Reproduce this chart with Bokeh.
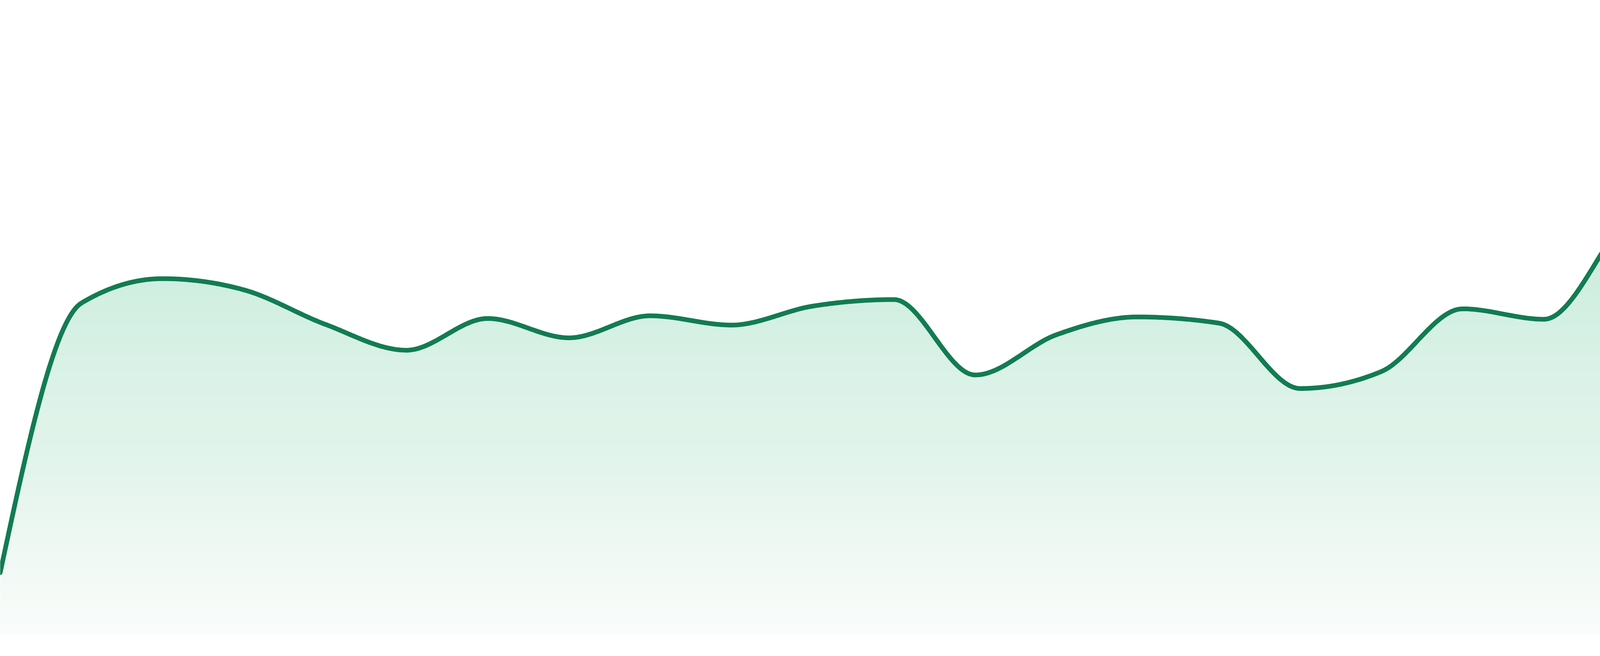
import numpy as np
from bokeh.plotting import figure
from bokeh.models import Range1d
from bokeh.embed import file_html
from bokeh.resources import INLINE

# ---- data ----
points = list(range(24))
values = [16.0, 85.7, 92.0, 89.1, 80.2, 73.5, 81.7, 76.7, 82.4, 80.0, 84.9, 86.6,
          67.1, 77.5, 82.1, 80.5, 63.6, 68.0, 84.2, 81.5, 107.2, 128.0, 141.1, 144.2]

LINE_COLOR = "#127c52"
# gradient stops: (value level, rgb)
grad_levels = [0.0, 24.0, 44.0, 64.0, 86.0, 144.5]
grad_colors = [(250, 252, 251), (238, 248, 243), (226, 244, 235), (220, 242, 232),
               (210, 239, 226), (175, 228, 207)]


def _sign(v):
    return -1.0 if v < 0 else 1.0


def monotone_x(xs, ys, samples=40):
    xs = np.asarray(xs, float)
    ys = np.asarray(ys, float)
    n = len(xs)
    t = np.zeros(n)
    for i in range(1, n - 1):
        h0 = xs[i] - xs[i - 1]
        h1 = xs[i + 1] - xs[i]
        s0 = (ys[i] - ys[i - 1]) / h0
        s1 = (ys[i + 1] - ys[i]) / h1
        p = (s0 * h1 + s1 * h0) / (h0 + h1)
        t[i] = (_sign(s0) + _sign(s1)) * min(abs(s0), abs(s1), 0.5 * abs(p))
    h = xs[1] - xs[0]
    t[0] = (3 * (ys[1] - ys[0]) / h - t[1]) / 2
    h = xs[-1] - xs[-2]
    t[-1] = (3 * (ys[-1] - ys[-2]) / h - t[-2]) / 2
    ox, oy = [], []
    for i in range(n - 1):
        dx = (xs[i + 1] - xs[i]) / 3
        p0 = (xs[i], ys[i])
        p1 = (xs[i] + dx, ys[i] + dx * t[i])
        p2 = (xs[i + 1] - dx, ys[i + 1] - dx * t[i + 1])
        p3 = (xs[i + 1], ys[i + 1])
        u = np.linspace(0, 1, samples, endpoint=(i == n - 2))
        a = (1 - u) ** 3
        b = 3 * (1 - u) ** 2 * u
        c = 3 * (1 - u) * u ** 2
        d = u ** 3
        ox.append(a * p0[0] + b * p1[0] + c * p2[0] + d * p3[0])
        oy.append(a * p0[1] + b * p1[1] + c * p2[1] + d * p3[1])
    return np.concatenate(ox), np.concatenate(oy)


cx, cy = monotone_x(points, values)

p = figure(width=4784, height=1664, x_range=Range1d(0, 23), y_range=Range1d(-4, 164),
           output_backend="svg", toolbar_location=None, min_border=0)
p.axis.visible = False
p.grid.visible = False
p.outline_line_color = None
p.background_fill_color = "white"
p.border_fill_color = "white"


def grad_color(level):
    r = np.interp(level, grad_levels, [c[0] for c in grad_colors])
    g = np.interp(level, grad_levels, [c[1] for c in grad_colors])
    b = np.interp(level, grad_levels, [c[2] for c in grad_colors])
    return "#%02x%02x%02x" % (int(round(r)), int(round(g)), int(round(b)))


band = 1.0
top = float(np.max(cy))
lo = 0.0
while lo < top:
    hi = lo + band
    y2 = np.clip(cy, lo, hi + 0.6)
    y2 = np.where(cy < lo, lo, y2)
    col = grad_color(lo + band / 2)
    p.varea(x=cx, y1=np.full_like(cx, lo), y2=y2, fill_color=col, fill_alpha=1.0)
    lo = hi

p.line(cx, cy, line_color=LINE_COLOR, line_width=12, line_cap="round", line_join="round")

open("out.html", "w").write(file_html(p, INLINE))
